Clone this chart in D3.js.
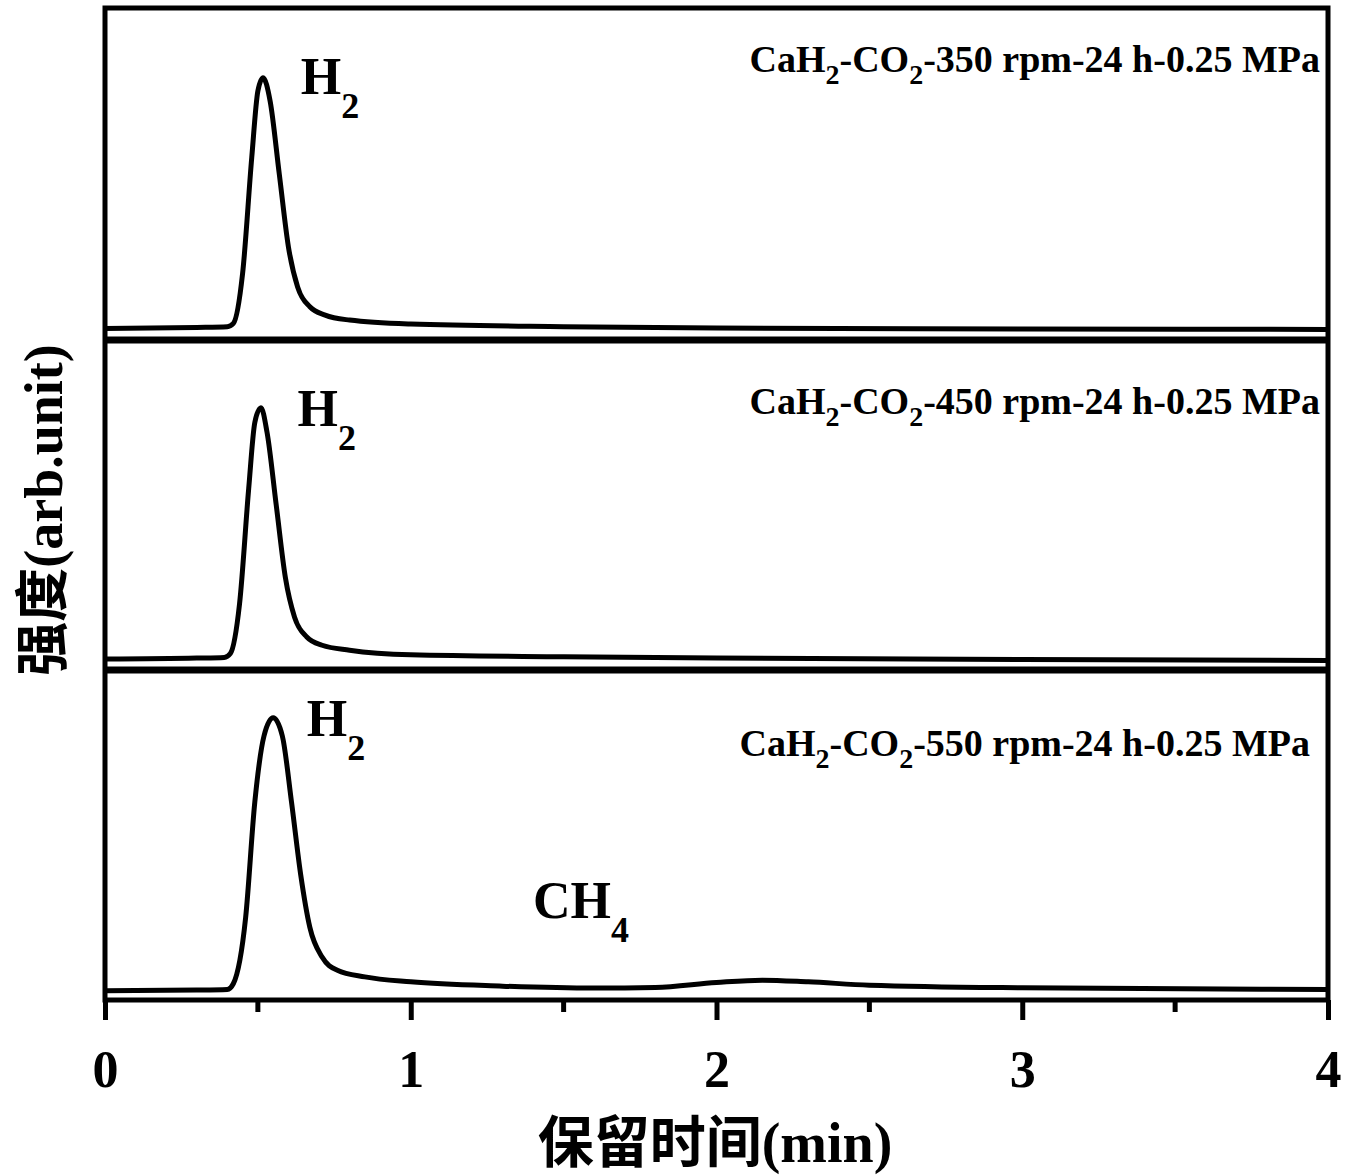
<!DOCTYPE html>
<html>
<head>
<meta charset="utf-8">
<script src="https://cdn.jsdelivr.net/npm/d3@7"></script>
<style>
  body { margin: 0; background: #fff; }
  text { font-family: "Liberation Serif", serif; font-weight: bold; fill: #000; }
  .cjk { font-family: "Noto Sans CJK SC", sans-serif; font-weight: bold; }
</style>
</head>
<body>
<svg id="chart" width="1350" height="1176"></svg>
<script>
// retention time (min) / intensity samples
var xTicks = [0, 1, 2, 3, 4];
var sampleLabels = ["CaH2-CO2-350 rpm-24 h-0.25 MPa", "CaH2-CO2-450 rpm-24 h-0.25 MPa", "CaH2-CO2-550 rpm-24 h-0.25 MPa"];
var s350 = [[0,3.5],[0.3,3.8],[0.4,4],[0.42,5],[0.45,20],[0.48,55],[0.5,75],[0.517,79],[0.54,72],[0.57,50],[0.6,28],[0.63,16],[0.67,10],[0.72,7.5],[0.8,6],[1.0,4.8],[1.5,4],[2,3.6],[3,3.3],[4,3.2]];
var s450 = [[0,3.3],[0.3,3.6],[0.39,3.8],[0.41,5],[0.44,20],[0.47,55],[0.49,75],[0.51,79.5],[0.53,72],[0.56,50],[0.59,28],[0.62,16],[0.66,10],[0.71,7.5],[0.8,6],[1.0,4.6],[1.5,4],[2,3.6],[3,3.2],[4,2.9]];
var s550 = [[0,2.8],[0.3,3],[0.4,3.2],[0.42,5],[0.46,25],[0.49,60],[0.52,80],[0.55,85.5],[0.58,80],[0.61,60],[0.64,38],[0.67,22],[0.71,13],[0.76,9],[0.85,7],[1.0,5.5],[1.3,4.2],[1.6,3.6],[1.8,3.8],[2.0,5.3],[2.15,6],[2.3,5.5],[2.5,4.5],[3,3.7],[4,3.2]];
var series = [s350, s450, s550];
var peakLabels = [{x: 0.64, y: 74, t: "H", sub: "2"}, {x: 0.63, y: 74, t: "H", sub: "2"}, {x: 0.66, y: 80, t: "H", sub: "2"}, {x: 1.4, y: 25, t: "CH", sub: "4", panel: 2}];

var svg = d3.select("#chart");
var left = 105, right = 1328, plotTop = 8, bottom = 1000;
var panelEdges = [8, 340, 670, 1000];

var x = d3.scaleLinear().domain([0, 4]).range([left, right]);
var ys = [0, 1, 2].map(function(i) {
  return d3.scaleLinear().domain([0, 100]).range([panelEdges[i + 1], panelEdges[i]]);
});

var line = d3.line().curve(d3.curveMonotoneX);

series.forEach(function(s, i) {
  svg.append("path")
    .attr("d", line.x(function(d) { return x(d[0]); }).y(function(d) { return ys[i](d[1]); })(s))
    .attr("fill", "none").attr("stroke", "#000").attr("stroke-width", 5)
    .attr("stroke-linejoin", "round");
});

// frame and panel dividers
svg.append("rect").attr("x", left).attr("y", plotTop).attr("width", right - left).attr("height", bottom - plotTop)
  .attr("fill", "none").attr("stroke", "#000").attr("stroke-width", 5);
[340, 670].forEach(function(yv) {
  svg.append("line").attr("x1", left).attr("x2", right).attr("y1", yv).attr("y2", yv)
    .attr("stroke", "#000").attr("stroke-width", 7);
});

// x axis
var axis = d3.axisBottom(x).tickValues(xTicks).tickSize(20).tickFormat(d3.format("d"));
var g = svg.append("g").attr("transform", "translate(0," + bottom + ")").call(axis);
g.select(".domain").remove();
g.selectAll(".tick line").attr("stroke-width", 5);
g.selectAll(".tick text").attr("y", 50).attr("font-size", 52).attr("font-family", "Liberation Serif").attr("font-weight", "bold");
var minor = d3.range(0.5, 4, 1);
svg.selectAll(".minor").data(minor).enter().append("line")
  .attr("x1", function(d) { return x(d); }).attr("x2", function(d) { return x(d); })
  .attr("y1", bottom).attr("y2", bottom + 12).attr("stroke", "#000").attr("stroke-width", 5);

// sample labels with subscripts
sampleLabels.forEach(function(lab, i) {
  var t = svg.append("text").attr("x", [1320, 1320, 1310][i]).attr("y", panelEdges[i] + [64, 74, 86][i])
    .attr("text-anchor", "end").attr("font-size", 38);
  t.append("tspan").text("CaH");
  t.append("tspan").attr("dy", 12).attr("font-size", 28).text("2");
  t.append("tspan").attr("dy", -12).text("-CO");
  t.append("tspan").attr("dy", 12).attr("font-size", 28).text("2");
  t.append("tspan").attr("dy", -12).text(lab.replace(/^CaH2-CO2/, ""));
});

peakLabels.forEach(function(p, i) {
  var pi = p.panel !== undefined ? p.panel : i;
  var t = svg.append("text").attr("x", x(p.x)).attr("y", ys[pi](p.y)).attr("font-size", 52);
  t.append("tspan").text(p.t);
  t.append("tspan").attr("dy", 24).attr("font-size", 36).text(p.sub);
});

// axis titles
var yt = svg.append("text").attr("transform", "translate(62,510) rotate(-90)")
  .attr("text-anchor", "middle").attr("font-size", 54);
yt.append("tspan").attr("class", "cjk").text("强度");
yt.append("tspan").text("(arb.unit)");

var xt = svg.append("text").attr("x", 715).attr("y", 1162).attr("text-anchor", "middle").attr("font-size", 56);
xt.append("tspan").attr("class", "cjk").attr("font-weight", "normal").text("保留时间");
xt.append("tspan").text("(min)");
</script>
</body>
</html>
